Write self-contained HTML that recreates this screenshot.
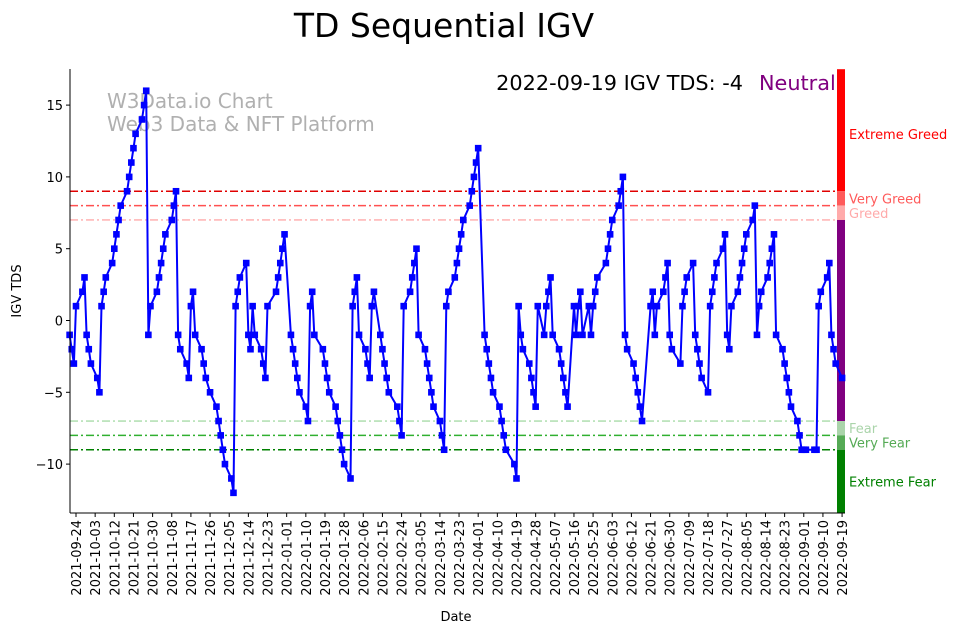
<!DOCTYPE html>
<html><head><meta charset="utf-8"><style>
html,body{margin:0;padding:0;background:#fff;}
svg{display:block;font-family:"DejaVu Sans","Liberation Sans",sans-serif;}
</style></head><body>
<svg id="chart" width="962" height="633" viewBox="0 0 962 633">
<text x="444" y="37" font-size="33" text-anchor="middle">TD Sequential IGV</text>
<g>
<text x="107" y="108" font-size="20" fill="#b0b0b0">W3Data.io Chart</text>
<text x="107" y="131" font-size="20" fill="#b0b0b0">Web3 Data &amp; NFT Platform</text>
</g>
<text x="743" y="90" font-size="20.8" text-anchor="end">2022-09-19 IGV TDS: -4</text>
<text x="759" y="90" font-size="20.8" fill="#800080">Neutral</text>
<g id="grid"></g>
<g id="bands"></g>
<g id="series"></g>
<g id="axes"></g>
<text x="456" y="621" font-size="13" text-anchor="middle">Date</text>
<text x="21" y="291" font-size="13" text-anchor="middle" transform="rotate(-90 21 291)">IGV TDS</text>
</svg>
<script>
const values = [-1,-2,-3,1,2,3,-1,-2,-3,-4,-5,1,2,3,4,5,6,7,8,9,10,11,12,13,14,15,16,-1,1,2,3,4,5,6,7,8,9,-1,-2,-3,-4,1,2,-1,-2,-3,-4,-5,-6,-7,-8,-9,-10,-11,-12,1,2,3,4,-1,-2,1,-1,-2,-3,-4,1,2,3,4,5,6,-1,-2,-3,-4,-5,-6,-7,1,2,-1,-2,-3,-4,-5,-6,-7,-8,-9,-10,-11,1,2,3,-1,-2,-3,-4,1,2,-1,-2,-3,-4,-5,-6,-7,-8,1,2,3,4,5,-1,-2,-3,-4,-5,-6,-7,-8,-9,1,2,3,4,5,6,7,8,9,10,11,12,-1,-2,-3,-4,-5,-6,-7,-8,-9,-10,-11,1,-1,-2,-3,-4,-5,-6,1,-1,1,2,3,-1,-2,-3,-4,-5,-6,1,-1,1,2,-1,1,-1,1,2,3,4,5,6,7,8,9,10,-1,-2,-3,-4,-5,-6,-7,1,2,-1,1,2,3,4,-1,-2,-3,1,2,3,4,-1,-2,-3,-4,-5,1,2,3,4,5,6,-1,-2,1,2,3,4,5,6,7,8,-1,1,2,3,4,5,6,-1,-2,-3,-4,-5,-6,-7,-8,-9,-9,-9,-9,-9,1,2,3,4,-1,-2,-3,-4];
const holidays = ["2021-11-25","2021-12-24","2022-01-17","2022-02-21","2022-04-15","2022-05-30","2022-06-20","2022-07-04","2022-09-05"];
const yTicks = [-10,-5,0,5,10,15];
const lastDate = "2022-09-19";
const firstTick = "2021-09-24";
const tickStepDays = 9;
const zoneLevels = [9,8,7,-7,-8,-9];
const zoneColors = ["#e00000","#ff5050","#ffaaaa","#a8dca8","#30b030","#008000"];
const bandEdges = [17.5,9,8,7,-7,-8,-9,-13.4];
const bandColors = ["#ff0000","#ff5a5a","#ffaaaa","#800080","#aad4aa","#55aa55","#008000"];
const bandLabels = [["Extreme Greed",13,"#ff0000"],["Very Greed",8.5,"#ff5a5a"],["Greed",7.5,"#ffaaaa"],["Fear",-7.5,"#aad4aa"],["Very Fear",-8.5,"#55aa55"],["Extreme Fear",-11.2,"#008000"]];

const NS="http://www.w3.org/2000/svg";
const L=70,R=845,T=69,B=513;
const DAY=86400000;
const t0=Date.UTC(2021,8,24);
function parse(s){const p=s.split("-");return Date.UTC(+p[0],+p[1]-1,+p[2]);}
function xs(t){return 76+(t-t0)/DAY*2.128;}
function ys(v){return 320.5-v*14.36;}
function mk(tag,attrs,parent){const e=document.createElementNS(NS,tag);for(const k in attrs)e.setAttribute(k,attrs[k]);parent.appendChild(e);return e;}
function fmt(t){const d=new Date(t);return d.getUTCFullYear()+"-"+String(d.getUTCMonth()+1).padStart(2,"0")+"-"+String(d.getUTCDate()).padStart(2,"0");}

const dates=[];
let t=parse(lastDate);
while(dates.length<values.length){
  const wd=new Date(t).getUTCDay();
  if(wd!==0&&wd!==6&&holidays.indexOf(fmt(t))<0)dates.unshift(t);
  t-=DAY;
}

const grid=document.getElementById("grid");
zoneLevels.forEach((lv,i)=>{
  const l=mk("line",{x1:L,x2:837,y1:ys(lv),y2:ys(lv),stroke:zoneColors[i],"stroke-width":1.4,"stroke-dasharray":"8,3,2,3"},grid);
  
  
});

const bands=document.getElementById("bands");
bandColors.forEach((c,i)=>{
  const r=mk("rect",{x:837,width:8,y:ys(bandEdges[i]),height:ys(bandEdges[i+1])-ys(bandEdges[i]),fill:c},bands);
  
  
});
bandLabels.forEach(b=>{
  const tx=mk("text",{x:849,y:ys(b[1])+5,"font-size":13,fill:b[2]},bands);
  tx.textContent=b[0];
  
  
});

const series=document.getElementById("series");
const pts=values.map((v,i)=>xs(dates[i]).toFixed(1)+","+ys(v).toFixed(1)).join(" ");
const pl=mk("polyline",{points:pts,fill:"none",stroke:"#0000ff","stroke-width":2,"stroke-linejoin":"round"},series);


values.forEach((v,i)=>{
  const m=mk("rect",{x:xs(dates[i])-3.3,y:ys(v)-3.3,width:6.6,height:6.6,fill:"#0000ff"},series);
  
  
});

const axes=document.getElementById("axes");
const ya=mk("line",{x1:L,x2:L,y1:T,y2:B,stroke:"#000","stroke-width":1},axes);


const xa=mk("line",{x1:L,x2:R,y1:B,y2:B,stroke:"#000","stroke-width":1},axes);


yTicks.forEach(v=>{
  mk("line",{x1:L-4,x2:L,y1:ys(v),y2:ys(v),stroke:"#000"},axes);
  const tx=mk("text",{x:L-7,y:ys(v)+5,"font-size":13,"text-anchor":"end"},axes);
  tx.textContent=String(v).replace("-","\u2212");
  
  
});
for(let tt=parse(firstTick);tt<=parse(lastDate);tt+=tickStepDays*DAY){
  const x=xs(tt);
  mk("line",{x1:x,x2:x,y1:B,y2:B+4,stroke:"#000"},axes);
  const tx=mk("text",{x:x+5,y:B+7,"font-size":13,"text-anchor":"end",transform:"rotate(-90 "+(x+5)+" "+(B+7)+")"},axes);
  tx.textContent=fmt(tt);
  
  
}
</script>
</body></html>
